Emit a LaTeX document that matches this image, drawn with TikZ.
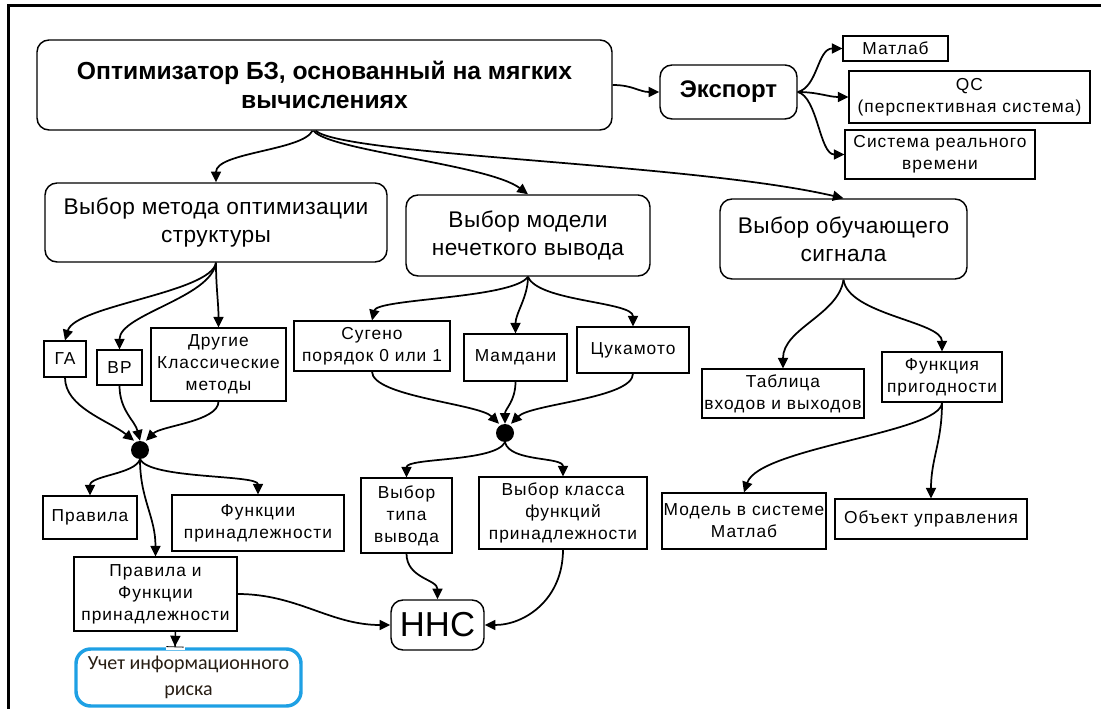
\documentclass[tikz,border=0pt]{standalone}
\usepackage{fontspec}
\setmainfont{Liberation Sans}
\newfontfamily\calib{Carlito}
\newfontfamily\smallf[LetterSpace=6]{Liberation Sans}
\newfontfamily\bigf[LetterSpace=2]{Liberation Sans}
\usetikzlibrary{arrows.meta,calc}
\definecolor{riskblue}{RGB}{30,160,228}
\definecolor{risktext}{RGB}{40,30,20}
\begin{document}
\begin{tikzpicture}[x=0.75pt,y=-0.75pt,
  sz/.style 2 args={minimum width=#1*0.75pt,minimum height=#2*0.75pt},
  conn/.style={line width=1.3pt,-{Triangle[length=8pt,width=7.5pt]}},
  sq/.style={draw,line width=0.8pt,inner sep=0pt,align=center,font=\smallf\fontsize{13}{16.5}\selectfont},
  rbox/.style={draw,line width=1.1pt,rounded corners=9pt,inner sep=0pt,align=center},
  bigbold/.style={font=\fontsize{18.5}{22}\selectfont\bfseries},
  bigreg/.style={font=\bigf\fontsize{17}{21}\selectfont},
  blob/.style={circle,fill=black,inner sep=0pt,minimum size=18*0.75pt},
]
\useasboundingbox (0,0) rectangle (1101,709);
\draw[line width=2.25pt] (8,709) -- (8,6) -- (1101,6);

% top level
\node[rbox,bigbold,sz={575}{90}] (main) at (324.5,85) {Оптимизатор БЗ, основанный на мягких\\вычислениях};
\node[rbox,bigbold,font=\fontsize{18}{22}\selectfont\bfseries,sz={137}{54}] (exp) at (728.5,92) {Экспорт};
\node[sq,sz={105}{25}] (mat1) at (895.5,48.5) {Матлаб};
\node[sq,sz={241}{52}] (qc) at (969.5,97) {QC\\(перспективная система)};
\node[sq,sz={190}{49}] (srv) at (940,154.5) {Система реального\\времени};

% second level
\node[rbox,bigreg,sz={342}{79}] (vmo) at (216,222.5) {Выбор метода оптимизации\\структуры};
\node[rbox,bigreg,sz={244}{81}] (vmn) at (528,235.5) {Выбор модели\\нечеткого вывода};
\node[rbox,bigreg,sz={247}{80}] (vos) at (843.5,239) {Выбор обучающего\\сигнала};

% third level
\node[sq,sz={42}{36}] (ga) at (65,359) {ГА};
\node[sq,sz={45}{35}] (vr) at (119.5,367.5) {ВР};
\node[sq,sz={135}{73}] (dk) at (218.5,364.5) {Другие\\Классические\\методы};
\node[sq,sz={156}{50}] (sug) at (372,346) {Сугено\\порядок 0 или 1};
\node[sq,sz={103}{47}] (mam) at (515.5,357.5) {Мамдани};
\node[sq,sz={112}{46}] (tsu) at (633,350) {Цукамото};
\node[sq,sz={162}{49}] (tab) at (783,393.5) {Таблица\\входов и выходов};
\node[sq,sz={120}{50}] (fp) at (942,377) {Функция\\пригодности};

\node[blob] (d1) at (140,450) {};
\node[blob] (d2) at (505,433) {};

% fourth level
\node[sq,sz={94}{43}] (prav) at (90,517.5) {Правила};
\node[sq,sz={172}{56}] (fun) at (258,523) {Функции\\принадлежности};
\node[sq,sz={163}{74}] (pif) at (155.5,594) {Правила и\\Функции\\принадлежности};
\node[draw=riskblue,line width=2.6pt,rounded corners=11pt,inner sep=0pt,align=center,sz={225}{57},
      font=\calib\fontsize{15}{19}\selectfont,text=risktext] (uchet) at (188.5,677.5) {Учет информационного\\риска};
\node[sq,sz={91}{75}] (vtv) at (406.5,515.5) {Выбор\\типа\\вывода};
\node[sq,sz={168}{72}] (vkf) at (563,513) {Выбор класса\\функций\\принадлежности};
\node[rbox,sz={93}{50},font=\fontsize{26}{30}\selectfont] (nns) at (437.5,625) {ННС};
\node[sq,sz={164}{56}] (mdl) at (744,521) {Модель в системе\\Матлаб};
\node[sq,sz={192}{40}] (obj) at (931,519) {Объект управления};

% connectors from main
\draw[conn] ($(main.south)+(-12,0)$) .. controls +(-10,20) and +(0,-30) .. (vmo.north);
\draw[conn] ($(main.south)+(-11,0)$) .. controls +(15,20) and +(-40,-30) .. (vmn.north);
\draw[conn] ($(main.south)+(-9,0)$) .. controls +(30,25) and +(-150,-35) .. (vos.north);
\draw[conn] (main.east) .. controls +(20,0) and +(-20,0) .. (exp.west);
\draw[conn] (exp.east) .. controls +(20,-5) and +(-25,0) .. (mat1.west);
\draw[conn] (exp.east) .. controls +(20,0) and +(-20,0) .. (qc.west);
\draw[conn] (exp.east) .. controls +(20,5) and +(-25,0) .. (srv.west);

% left branch
\draw[conn] (vmo.south) .. controls +(-5,30) and +(10,-35) .. (ga.north);
\draw[conn] (vmo.south) .. controls +(-5,35) and +(0,-35) .. (vr.north);
\draw[conn] (vmo.south) .. controls +(0,25) and +(0,-25) .. (dk.north);
\draw[conn] (ga.south) .. controls +(0,30) and +(-25,-20) .. ($(d1.north)+(-6,0)$);
\draw[conn] (vr.south) .. controls +(0,25) and +(-5,-20) .. (d1.north);
\draw[conn] (dk.south) .. controls +(0,20) and +(15,-15) .. ($(d1.north)+(6,0)$);
\draw[conn] (d1.south) .. controls +(-5,15) and +(0,-20) .. (prav.north);
\draw[conn] (d1.south) .. controls +(10,20) and +(0,-20) .. (fun.north);
\draw[conn] (d1.south) .. controls +(0,40) and +(0,-40) .. (pif.north);
\fill[white] ($(uchet.north)+(-23,-3)$) rectangle ($(uchet.north)+(-4,3)$);
\draw[line width=1.1pt,-{Triangle[length=8pt,width=7.5pt]Bar[width=13pt,line width=0.6pt]}]
  ($(pif.south)+(20,0)$) -- ($(uchet.north)+(-13.5,0)$);
\draw[conn] (pif.east) .. controls +(60,0) and +(-60,0) .. (nns.west);

% middle branch
\draw[conn] (vmn.south) .. controls +(-15,22) and +(5,-22) .. (sug.north);
\draw[conn] (vmn.south) .. controls +(0,20) and +(0,-20) .. (mam.north);
\draw[conn] (vmn.south) .. controls +(10,25) and +(0,-25) .. (tsu.north);
\draw[conn] (sug.south) .. controls +(0,25) and +(-20,-20) .. ($(d2.north)+(-6,0)$);
\draw[conn] (mam.south) .. controls +(0,20) and +(0,-15) .. (d2.north);
\draw[conn] (tsu.south) .. controls +(0,25) and +(20,-20) .. ($(d2.north)+(6,0)$);
\draw[conn] (d2.south) .. controls +(-10,20) and +(0,-20) .. (vtv.north);
\draw[conn] (d2.south) .. controls +(5,20) and +(0,-20) .. (vkf.north);
\draw[conn] (vtv.south) .. controls +(0,25) and +(0,-20) .. (nns.north);
\draw[conn] (vkf.south) .. controls +(0,50) and +(40,0) .. (nns.east);

% right branch
\draw[conn] (vos.south) .. controls +(-5,35) and +(0,-40) .. (tab.north);
\draw[conn] (vos.south) .. controls +(5,35) and +(0,-30) .. (fp.north);
\draw[conn] (fp.south) .. controls +(0,30) and +(15,-45) .. (mdl.north);
\draw[conn] (fp.south) .. controls +(0,40) and +(0,-40) .. (obj.north);
\end{tikzpicture}
\end{document}
